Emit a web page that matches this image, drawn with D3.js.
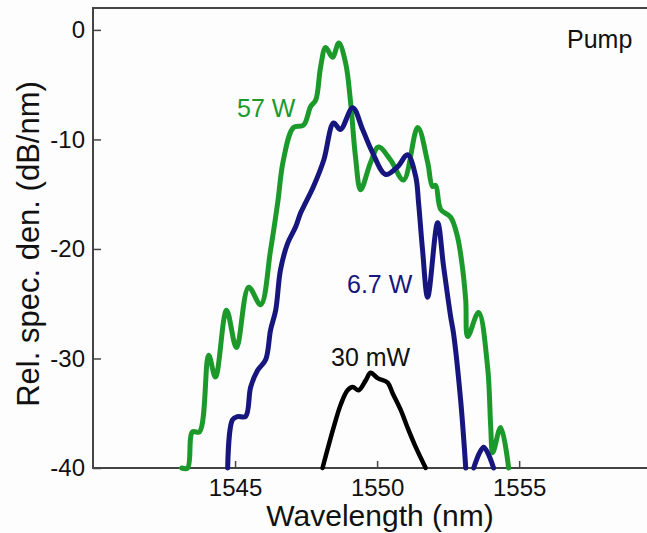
<!DOCTYPE html>
<head>
	<meta charset="utf-8">
	<script src="https://d3js.org/d3.v7.min.js"></script>
	<style>
		body { margin: 0; background: #fff; }
		text { font-family: "Liberation Sans", Arial, sans-serif; }
	</style>
</head>
<body>
	<script type="text/javascript">

		// wavelength (nm) and relative spectral density (dB/nm) for each pump level
		var wl57 = [1543.12, 1543.33, 1543.5, 1543.75, 1544.07, 1544.31, 1544.7, 1545.05, 1545.48, 1545.9,
			1546.25, 1546.5, 1546.7, 1547.06, 1547.41, 1547.66, 1547.84, 1548.01, 1548.19, 1548.43,
			1548.65, 1548.89, 1549.07, 1549.24, 1549.42, 1549.77, 1550.05, 1550.48, 1550.93, 1551.43,
			1551.78, 1551.95, 1552.06, 1552.24, 1552.59, 1552.83, 1553.0, 1553.12, 1553.19, 1553.57,
			1553.89, 1554.0, 1554.07, 1554.35, 1554.63];
		var db57 = [-40, -40, -36.7, -36.7, -29.7, -31.7, -25.6, -29, -23.5, -25.1,
			-20.1, -15.8, -11.9, -8.9, -8.7, -7.0, -6.4, -3.4, -1.6, -2.5,
			-1.2, -3.0, -6.7, -11.6, -14.6, -12.1, -10.7, -11.9, -13.7, -8.9,
			-12.1, -14.3, -14.2, -16.4, -17.1, -18.9, -21.6, -24.7, -28, -25.8,
			-30.8, -36.3, -38.6, -36.3, -40];

		var wl67 = [1544.74, 1544.91, 1545.09, 1545.37, 1545.55, 1545.79, 1546.08, 1546.25, 1546.43, 1546.6,
			1546.85, 1547.13, 1547.31, 1547.48, 1547.76, 1548.12, 1548.47, 1548.71, 1549.14, 1549.49,
			1549.84, 1550.3, 1550.72, 1551.07, 1551.36, 1551.46, 1551.6, 1551.78, 1552.13, 1552.34,
			1552.59, 1552.69, 1552.94, 1553.12, 1553.25, 1553.4, 1553.75, 1554.1];
		var db67 = [-40, -35.6, -35.3, -35.3, -32.6, -31.1, -30.1, -27.4, -25.6, -21.9,
			-19.5, -18.0, -16.7, -15.8, -14.3, -11.9, -8.5, -9.1, -7.1, -9.1,
			-11.2, -13.2, -12.5, -11.4, -13.4, -15.8, -20.1, -24.4, -17.6, -21.6,
			-26.2, -27.7, -33.8, -40, null, -40, -38.1, -40];

		var wl30m = [1548.08, 1548.47, 1548.72, 1548.96, 1549.14, 1549.35, 1549.6, 1549.77, 1550.02, 1550.37,
			1550.55, 1550.83, 1551.07, 1551.36, 1551.71];
		var db30m = [-40, -36.3, -34.2, -32.9, -32.6, -32.9, -32.0, -31.3, -31.8, -32.2,
			-33.2, -34.7, -36.3, -38.1, -40];

		var xTicks = [1545, 1550, 1555];
		var yTicks = [0, -10, -20, -30, -40];

		var w = 647;
		var h = 533;
		var pLeft = 93, pRight = 647, pTop = 8, pBottom = 468;

		var svg = d3.select("body")
				.append("svg")
				.attr("width", w)
				.attr("height", h);

		svg.append("rect")
			.attr("width", w)
			.attr("height", h)
			.attr("fill", "#fdfdfd");

		var xScale = d3.scaleLinear()
					.domain([1540, 1559.5])
					.range([pLeft, pRight]);

		var yScale = d3.scaleLinear()
					.domain([-40, 2])
					.range([pBottom, pTop]);

		// frame: top, left, bottom
		svg.append("path")
			.attr("d", "M" + pRight + "," + pTop + "H" + pLeft + "V" + pBottom + "H" + pRight)
			.attr("fill", "none")
			.attr("stroke", "#444")
			.attr("stroke-width", 2);

		var yAxis = svg.append("g")
			.attr("transform", "translate(" + pLeft + ",0)")
			.call(d3.axisLeft(yScale).tickValues(yTicks).tickFormat(function(d){ return String(d); })
				.tickSizeInner(-8).tickSizeOuter(0).tickPadding(8));
		yAxis.select(".domain").remove();
		yAxis.selectAll("line").attr("stroke", "#444").attr("stroke-width", 1.5);
		yAxis.selectAll("text").attr("font-size", "24px").attr("fill", "#111")
			.style("font-family", "'Liberation Sans', Arial, sans-serif");

		var xAxis = svg.append("g")
			.attr("transform", "translate(0," + pBottom + ")")
			.call(d3.axisBottom(xScale).tickValues(xTicks).tickFormat(function(d){ return String(d); })
				.tickSizeInner(-7).tickSizeOuter(0).tickPadding(11));
		xAxis.select(".domain").remove();
		xAxis.selectAll("line").attr("stroke", "#444").attr("stroke-width", 1.5);
		xAxis.selectAll("text").attr("font-size", "24px").attr("fill", "#111")
			.style("font-family", "'Liberation Sans', Arial, sans-serif");

		var line = d3.line()
			.defined(function(d){ return d[1] != null; })
			.x(function(d){ return xScale(d[0]); })
			.y(function(d){ return yScale(d[1]); })
			.curve(d3.curveCatmullRom.alpha(0.5));

		var series = [
			{wl: wl57, db: db57, color: "#1b9a2b", width: 5},
			{wl: wl67, db: db67, color: "#16167e", width: 5},
			{wl: wl30m, db: db30m, color: "#000", width: 4.5}
		];

		svg.selectAll(".spec")
			.data(series)
			.enter()
			.append("path")
			.attr("class", "spec")
			.attr("d", function(s){
				return line(s.wl.map(function(v, i){ return [v, s.db[i]]; }));
			})
			.attr("fill", "none")
			.attr("stroke", function(s){ return s.color; })
			.attr("stroke-width", function(s){ return s.width; })
			.attr("stroke-linejoin", "round")
			.attr("stroke-linecap", "round");

		// curve labels
		svg.append("text").text("57 W")
			.attr("x", 237).attr("y", 117)
			.attr("font-size", "25px").attr("fill", "#1b9a2b");
		svg.append("text").text("6.7 W")
			.attr("x", 347).attr("y", 293)
			.attr("font-size", "25px").attr("fill", "#16167e");
		svg.append("text").text("30 mW")
			.attr("x", 331).attr("y", 366)
			.attr("font-size", "25px").attr("fill", "#111");
		svg.append("text").text("Pump")
			.attr("x", 567).attr("y", 48)
			.attr("font-size", "25px").attr("fill", "#111");

		// axis titles
		svg.append("text").text("Wavelength (nm)")
			.attr("x", 380).attr("y", 526)
			.attr("text-anchor", "middle")
			.attr("font-size", "30px").attr("fill", "#111");
		svg.append("text").text("Rel. spec. den. (dB/nm)")
			.attr("transform", "translate(39,244) rotate(-90)")
			.attr("text-anchor", "middle")
			.attr("font-size", "31px").attr("fill", "#111");

	</script>
</body>
